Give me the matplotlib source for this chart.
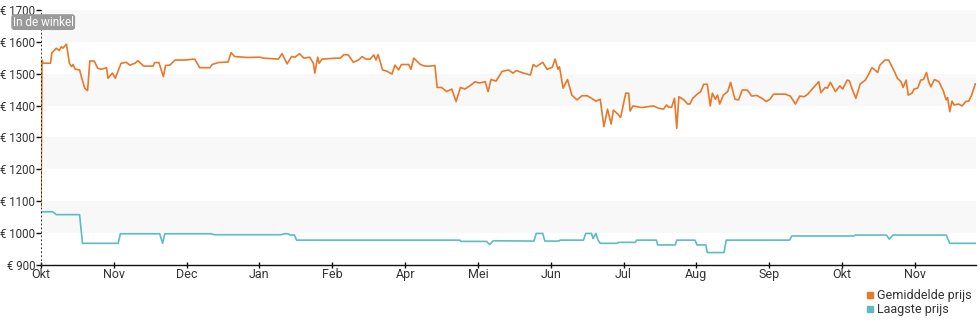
import matplotlib
matplotlib.use("Agg")
import matplotlib.pyplot as plt
from matplotlib.lines import Line2D

plt.rcParams['font.family'] = ['Roboto', 'DejaVu Sans']

# month labels along the x axis (one tick per month index)
month_labels = ["Okt", "Nov", "Dec", "Jan", "Feb", "Apr", "Mei", "Jun",
                "Jul", "Aug", "Sep", "Okt", "Nov"]

# average price: time in months since start, price in euro
avg_t = [0.0, 0.014, 0.03, 0.13, 0.15, 0.21, 0.25, 0.28, 0.30, 0.35, 0.39, 0.42,
         0.44, 0.47, 0.53, 0.56, 0.60, 0.64, 0.67, 0.73, 0.78, 0.83, 0.90, 0.92,
         0.98, 1.02, 1.10, 1.17, 1.22, 1.29, 1.33, 1.41, 1.54, 1.56, 1.62, 1.68,
         1.71, 1.77, 1.84, 1.97, 2.11, 2.18, 2.32, 2.35, 2.43, 2.57, 2.61, 2.66,
         2.83, 3.01, 3.05, 3.26, 3.31, 3.38, 3.44, 3.49, 3.55, 3.61, 3.69, 3.74,
         3.76, 3.80, 3.82, 3.86, 4.06, 4.11, 4.16, 4.22, 4.29, 4.36, 4.41, 4.46,
         4.52, 4.57, 4.60, 4.63, 4.69, 4.75, 4.82, 4.86, 4.91, 4.95, 5.05, 5.08,
         5.12, 5.21, 5.27, 5.34, 5.41, 5.44, 5.50, 5.57, 5.64, 5.70, 5.76, 5.82,
         5.89, 5.96, 6.02, 6.10, 6.14, 6.18, 6.25, 6.33, 6.42, 6.48, 6.53, 6.60,
         6.72, 6.76, 6.80, 6.89, 6.95, 7.02, 7.06, 7.10, 7.12, 7.17, 7.23, 7.29,
         7.36, 7.43, 7.50, 7.56, 7.62, 7.68, 7.73, 7.78, 7.83, 7.86, 7.91, 7.96,
         8.03, 8.07, 8.09, 8.13, 8.25, 8.41, 8.48, 8.55, 8.59, 8.62, 8.66, 8.70,
         8.73, 8.76, 8.83, 8.88, 8.91, 8.95, 9.01, 9.06, 9.10, 9.15, 9.19, 9.22,
         9.26, 9.29, 9.32, 9.37, 9.43, 9.47, 9.53, 9.58, 9.63, 9.70, 9.76, 9.83,
         9.90, 9.96, 10.01, 10.06, 10.22, 10.29, 10.36, 10.42, 10.48, 10.53,
         10.59, 10.63, 10.68, 10.71, 10.77, 10.80, 10.84, 10.91, 10.97, 11.01,
         11.07, 11.10, 11.14, 11.19, 11.25, 11.32, 11.36, 11.41, 11.44, 11.49,
         11.52, 11.59, 11.64, 11.72, 11.76, 11.81, 11.84, 11.88, 11.91, 11.96,
         11.99, 12.04, 12.08, 12.12, 12.16, 12.19, 12.22, 12.27, 12.33, 12.39,
         12.43, 12.45, 12.48, 12.51, 12.54, 12.60, 12.65, 12.70, 12.74, 12.78,
         12.83]
avg_price = [1085, 1543, 1533, 1533, 1566, 1580, 1573, 1585, 1580, 1593, 1533, 1522,
             1529, 1514, 1512, 1486, 1455, 1447, 1540, 1540, 1517, 1514, 1519, 1486,
             1502, 1486, 1533, 1536, 1527, 1533, 1541, 1524, 1524, 1535, 1535, 1491,
             1526, 1527, 1543, 1543, 1546, 1519, 1519, 1529, 1535, 1537, 1566, 1554,
             1551, 1552, 1549, 1546, 1563, 1531, 1554, 1552, 1563, 1549, 1552, 1533,
             1502, 1552, 1533, 1546, 1549, 1549, 1560, 1559, 1536, 1543, 1554, 1546,
             1546, 1559, 1543, 1560, 1512, 1508, 1499, 1527, 1512, 1529, 1529, 1514,
             1549, 1529, 1524, 1524, 1526, 1457, 1457, 1444, 1452, 1413, 1457, 1452,
             1462, 1475, 1471, 1475, 1444, 1482, 1477, 1507, 1512, 1502, 1510, 1504,
             1496, 1529, 1522, 1536, 1514, 1520, 1546, 1514, 1522, 1455, 1482, 1433,
             1418, 1431, 1431, 1423, 1414, 1420, 1334, 1389, 1342, 1386, 1376, 1363,
             1439, 1439, 1383, 1399, 1394, 1399, 1392, 1389, 1402, 1395, 1395, 1423,
             1329, 1428, 1418, 1405, 1405, 1423, 1436, 1444, 1467, 1467, 1399, 1439,
             1420, 1433, 1405, 1433, 1444, 1473, 1420, 1418, 1449, 1449, 1430, 1432,
             1423, 1413, 1420, 1436, 1436, 1430, 1405, 1430, 1428, 1436,
             1452, 1462, 1475, 1441, 1457, 1455, 1473, 1444, 1462, 1452,
             1480, 1478, 1452, 1423, 1468, 1480, 1496, 1519, 1514, 1504,
             1527, 1543, 1543, 1507, 1486, 1475, 1457, 1480, 1433, 1439,
             1452, 1455, 1480, 1482, 1504, 1475, 1459, 1482, 1475, 1447,
             1418, 1425, 1381, 1414, 1402, 1405, 1399, 1413, 1414, 1433,
             1468]

# lowest price
low_t = [0.0, 0.16, 0.21, 0.53, 0.57, 1.06, 1.09, 1.63, 1.67, 1.70, 2.34, 2.38,
         3.30, 3.34, 3.39, 3.42, 3.48, 3.51, 5.75, 5.77, 6.12, 6.16, 6.21, 6.77,
         6.80, 6.89, 6.92, 7.11, 7.13, 7.45, 7.48, 7.56, 7.58, 7.62, 7.65, 7.68,
         7.91, 7.93, 8.16, 8.18, 8.45, 8.47, 8.71, 8.73, 8.98, 9.01, 9.13, 9.15,
         9.38, 9.41, 10.28, 10.31, 11.16, 11.19, 11.61, 11.65, 11.70, 12.43,
         12.48, 12.84]
low_price = [1067, 1067, 1058, 1058, 968, 968, 998, 998, 968, 998, 998, 995,
             995, 998, 998, 994, 994, 978, 978, 974, 974, 964, 976, 975,
             999, 999, 975, 975, 978, 978, 999, 999, 983, 999, 978, 968,
             968, 971, 971, 978, 978, 963, 963, 978, 978, 963, 963, 939,
             939, 978, 978, 991, 991, 994, 994, 981, 994, 994,
             968, 968]

y_ticks = [900, 1000, 1100, 1200, 1300, 1400, 1500, 1600, 1700]

orange = "#e8782a"
cyan = "#5bbcc6"

fig = plt.figure(figsize=(9.8, 3.25), dpi=100)
ax = fig.add_axes([41 / 980, 1 - 265 / 325, 935 / 980, 255 / 325])

# alternating light bands behind the lines
for lo in y_ticks[1::2]:
    ax.axhspan(lo, lo + 100, color="#f8f8f8", lw=0, zorder=0)

ax.plot(low_t, low_price, color=cyan, lw=1.2, zorder=3)
ax.plot(avg_t, avg_price, color=orange, lw=1.2, zorder=3)

# "in de winkel" marker
ax.axvline(0, color="#222222", lw=1.3, ls=(0, (1, 1.2)), zorder=4)
ax.text(0.03, 1662, "In de winkel", color="white", fontsize=8.5,
        ha="center", va="center", zorder=5,
        bbox=dict(boxstyle="round,pad=0.12,rounding_size=0.25",
                  fc="#9a9a9a", ec="none"))

ax.set_xlim(0, 12.84)
ax.set_ylim(900, 1700)
ax.set_yticks(y_ticks)
ax.set_yticklabels(["€ %d" % v for v in y_ticks])
ax.set_xticks(range(len(month_labels)))
ax.set_xticklabels(month_labels)

for s in ["top", "right", "left"]:
    ax.spines[s].set_visible(False)
ax.spines["bottom"].set_color("#111111")
ax.spines["bottom"].set_linewidth(1.0)

ax.tick_params(axis="y", length=3.5, width=1, color="#111111", pad=0.5,
               labelsize=8.3, labelcolor="#333333")
ax.tick_params(axis="x", direction="inout", length=5, width=1, color="#111111",
               pad=0, labelsize=9, labelcolor="#333333")

handles = [Line2D([], [], ls="none", marker="s", ms=5, color=orange),
           Line2D([], [], ls="none", marker="s", ms=5, color=cyan)]
fig.legend(handles, ["Gemiddelde prijs", "Laagste prijs"], loc="lower right",
           bbox_to_anchor=(1.0, 0.0), frameon=False, fontsize=9,
           handlelength=0.6, handletextpad=0.2, labelspacing=0.1,
           borderpad=0.2, labelcolor="#333333")

fig.savefig("out.png", dpi=100)
